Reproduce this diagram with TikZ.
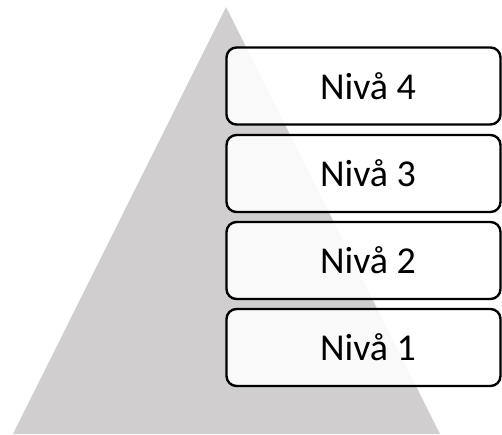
\documentclass[tikz,border=0pt]{standalone}
\usepackage{fontspec}
\setmainfont{Carlito}
\begin{document}
\begin{tikzpicture}[x=1pt,y=-1pt,
  level/.style={draw=black, line width=2.4pt, rounded corners=10pt, fill=white, fill opacity=0.88, text opacity=1, minimum width=274pt, minimum height=77pt, inner sep=0pt, font=\fontsize{38}{44}\selectfont}]
\useasboundingbox (0,0) rectangle (502,434);
\fill[fill={rgb,255:red,208;green,206;blue,207}] (226,7) -- (440,434) -- (13,434) -- cycle;
\node[level] (n4) at (363.5,86) {\hspace*{9pt}Nivå 4};
\node[level] (n3) at (363.5,173.5) {\hspace*{9pt}Nivå 3};
\node[level] (n2) at (363.5,260.5) {\hspace*{9pt}Nivå 2};
\node[level] (n1) at (363.5,347.5) {\hspace*{9pt}Nivå 1};
\end{tikzpicture}
\end{document}
